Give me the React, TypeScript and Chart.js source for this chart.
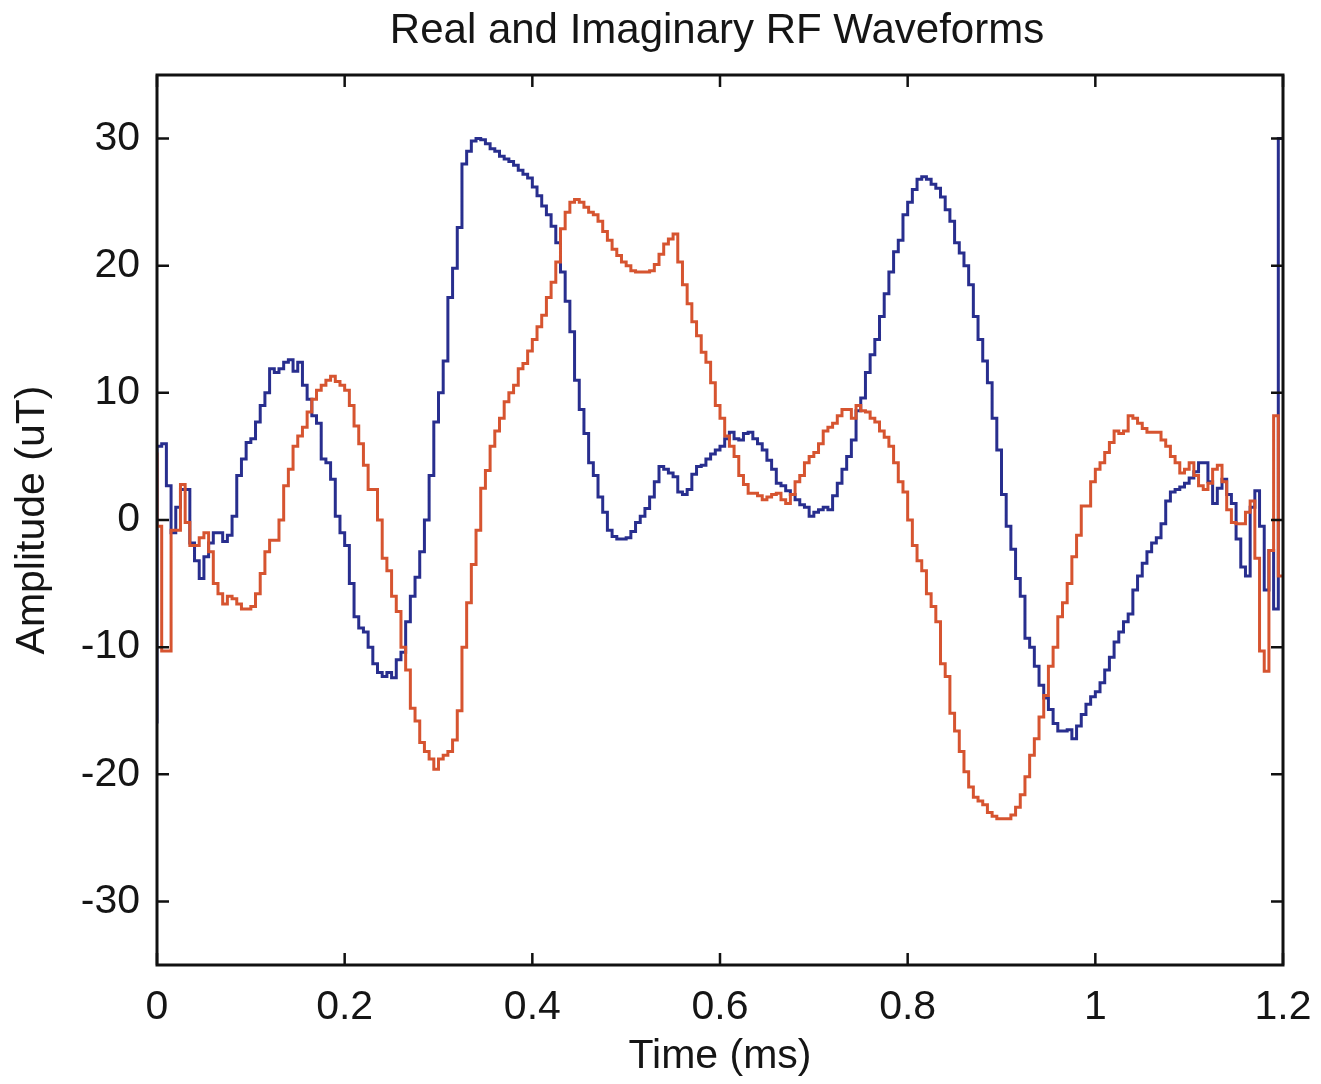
import React, { useEffect, useRef } from "react";
import { Chart, registerables } from "chart.js";

Chart.register(...registerables);

const TITLE = "Real and Imaginary RF Waveforms";
const X_LABEL = "Time (ms)";
const Y_LABEL = "Amplitude (uT)";

// waveform sampled every 5 microseconds from 0 to 1.2 ms
const SAMPLE_INTERVAL_MS = 0.005;

const X_TICKS = [0, 0.2, 0.4, 0.6, 0.8, 1.0, 1.2];
const X_TICK_LABELS = ["0", "0.2", "0.4", "0.6", "0.8", "1", "1.2"];
const Y_TICKS = [-30, -20, -10, 0, 10, 20, 30];
const Y_TICK_LABELS = ["-30", "-20", "-10", "0", "10", "20", "30"];

// Real part (blue), uT
const REAL_VALUES = [
  -16, 5.8, 6.0, 2.7, -1.0, 1.0, 2.4, 2.4, -1.8, -3.2, -4.6, -2.9, -1.8, -1.0, -1.0, -1.7, -1.2, 0.3, 3.5, 4.8,
  6.1, 6.4, 7.7, 9.0, 10.0, 11.9, 11.6, 11.9, 12.4, 12.6, 11.7, 12.4, 10.6, 9.5, 8.2, 7.6, 4.8, 4.5, 3.2, 0.3,
  -1.0, -2.0, -5.0, -7.6, -8.5, -8.8, -10.0, -11.3, -12.0, -12.3, -12.0, -12.4, -11.0, -10.4, -8.0, -6.0, -4.5, -2.5, 0.0, 3.5,
  7.7, 10.0, 12.5, 17.5, 19.8, 23.0, 28.0, 29.0, 29.8, 30.0, 29.9, 29.6, 29.2, 29.0, 28.6, 28.4, 28.2, 27.9, 27.5, 27.2,
  26.9, 26.2, 25.5, 24.7, 24.0, 23.1, 21.8, 19.5, 17.2, 14.8, 11.0, 8.7, 6.8, 4.5, 3.5, 1.8, 0.6, -0.8, -1.3, -1.5,
  -1.5, -1.4, -0.9, -0.2, 0.3, 0.9, 1.8, 3.0, 4.2, 4.0, 3.7, 3.4, 2.2, 2.0, 2.4, 3.6, 4.2, 4.3, 4.8, 5.2,
  5.5, 5.8, 6.4, 6.9, 6.4, 6.3, 6.8, 6.9, 6.4, 6.0, 5.5, 4.7, 4.0, 2.9, 2.7, 2.3, 2.0, 1.6, 1.2, 1.0,
  0.3, 0.6, 0.8, 1.0, 0.8, 1.9, 2.9, 4.0, 5.0, 6.3, 8.6, 9.6, 11.6, 13.0, 14.2, 16.0, 17.8, 19.5, 21.1, 22.0,
  24.0, 25.0, 26.0, 26.8, 27.0, 26.8, 26.4, 26.1, 25.4, 24.4, 23.5, 21.8, 21.0, 20.0, 18.5, 16.0, 14.2, 12.5, 10.8, 8.0,
  5.5, 2.0, -0.5, -2.3, -4.6, -6.0, -9.3, -10.0, -11.5, -13.0, -14.0, -14.9, -16.0, -16.6, -16.6, -16.5, -17.2, -16.2, -15.3, -14.5,
  -13.9, -13.5, -12.8, -11.8, -10.8, -9.6, -8.8, -8.0, -7.4, -5.5, -4.4, -3.4, -2.5, -1.8, -1.4, -0.3, 1.5, 2.2, 2.4, 2.6,
  2.9, 3.3, 3.8, 4.5, 4.5, 3.0, 1.3, 2.5, 3.2, 2.0, 1.3, -1.5, -3.7, -4.4, 1.0, 2.3, -0.5, -5.5, -2.4, -7.0,
  30.0,
];

// Imaginary part (red), uT
const IMAG_VALUES = [
  5.3, -0.5, -10.3, -10.3, -0.8, -0.8, 2.8, -0.2, -2.0, -2.0, -1.4, -1.0, -2.5, -5.0, -5.8, -6.6, -6.0, -6.2, -6.6, -7.0,
  -7.0, -6.8, -5.8, -4.2, -2.5, -1.6, -1.6, 0.0, 2.7, 4.0, 5.8, 6.6, 7.3, 8.5, 9.5, 10.2, 10.6, 11.0, 11.3, 10.9,
  10.6, 10.2, 9.0, 7.4, 6.0, 4.3, 2.4, 2.4, 0.0, -3.0, -4.0, -6.0, -7.2, -10.0, -11.8, -14.8, -15.8, -17.5, -18.2, -18.8,
  -19.6, -18.8, -18.5, -18.2, -17.3, -15.0, -10.0, -6.5, -3.5, -0.8, 2.5, 3.9, 5.8, 7.0, 8.0, 9.3, 10.0, 10.6, 11.9, 12.3,
  13.3, 14.2, 15.2, 16.1, 17.5, 18.7, 20.3, 22.9, 24.2, 25.0, 25.2, 25.0, 24.6, 24.2, 24.0, 23.5, 22.7, 22.0, 21.3, 20.8,
  20.3, 20.0, 19.6, 19.5, 19.5, 19.5, 19.6, 20.1, 20.9, 21.7, 22.1, 22.5, 20.3, 18.5, 17.0, 15.6, 14.5, 13.2, 12.4, 10.8,
  9.0, 8.0, 6.6, 5.8, 5.0, 3.5, 2.8, 2.1, 2.1, 1.9, 1.6, 1.8, 2.0, 2.1, 1.6, 1.3, 2.0, 3.0, 3.5, 4.5,
  5.0, 5.3, 6.0, 7.0, 7.3, 7.6, 8.2, 8.7, 8.7, 8.0, 9.0, 8.6, 8.5, 8.0, 7.7, 7.0, 6.5, 5.8, 4.5, 3.0,
  2.2, 0.0, -2.0, -3.2, -4.0, -5.8, -6.8, -8.0, -11.3, -12.3, -15.2, -16.6, -18.2, -19.8, -21.0, -21.8, -22.1, -22.4, -23.0, -23.3,
  -23.5, -23.5, -23.5, -23.2, -22.6, -21.6, -20.2, -18.5, -17.2, -15.5, -13.8, -11.5, -10.0, -7.6, -6.5, -5.0, -2.9, -1.2, 1.1, 1.1,
  3.0, 4.0, 4.5, 5.3, 6.1, 7.0, 6.8, 7.0, 8.2, 8.0, 7.6, 7.2, 6.9, 6.9, 6.9, 6.3, 5.8, 5.0, 4.5, 3.7,
  4.0, 4.5, 3.5, 2.7, 2.4, 2.9, 4.0, 4.3, 3.0, 0.8, -0.2, -0.3, -0.3, 0.6, 1.5, -3.0, -10.3, -11.9, -2.4, 8.2,
  -4.4,
];

const BLUE = "rgb(40, 46, 142)";
const RED = "rgb(214, 84, 48)";
const FONT_FAMILY = "'Liberation Sans', Arial, Helvetica, sans-serif";
const TEXT_COLOR = "#151515";

const W = 1321;
const H = 1084;

const toPoints = (values: number[]) =>
  values.map((v, i) => ({ x: Number((i * SAMPLE_INTERVAL_MS).toFixed(3)), y: v }));

const framePlugin = {
  id: "matlabFrame",
  afterDatasetsDraw(chart: any) {
    const { ctx, chartArea, scales } = chart;
    const { left, right, top, bottom } = chartArea;
    const xs = scales.x;
    const ys = scales.y;
    const TL = 12;
    ctx.save();
    ctx.strokeStyle = "#111";
    ctx.lineWidth = 2.5;
    ctx.beginPath();
    X_TICKS.forEach((v) => {
      const px = xs.getPixelForValue(v);
      ctx.moveTo(px, bottom);
      ctx.lineTo(px, bottom - TL);
      ctx.moveTo(px, top);
      ctx.lineTo(px, top + TL);
    });
    Y_TICKS.forEach((v) => {
      const py = ys.getPixelForValue(v);
      ctx.moveTo(left, py);
      ctx.lineTo(left + TL, py);
      ctx.moveTo(right, py);
      ctx.lineTo(right - TL, py);
    });
    ctx.stroke();
    ctx.lineWidth = 3;
    ctx.strokeRect(left, top, right - left, bottom - top);

    // title centred over the plot box
    ctx.fillStyle = TEXT_COLOR;
    ctx.font = `42px ${FONT_FAMILY}`;
    ctx.textAlign = "center";
    ctx.textBaseline = "middle";
    ctx.fillText(TITLE, (left + right) / 2 - 3, 31);
    ctx.restore();
  },
};

export default function App() {
  const canvasRef = useRef<HTMLCanvasElement | null>(null);

  useEffect(() => {
    if (!canvasRef.current) return;
    const chart = new Chart(canvasRef.current, {
      type: "line",
      data: {
        datasets: [
          {
            label: "Imaginary",
            data: toPoints(IMAG_VALUES),
            borderColor: RED,
            borderWidth: 3,
            pointRadius: 0,
            stepped: "after",
            fill: false,
          },
          {
            label: "Real",
            data: toPoints(REAL_VALUES),
            borderColor: BLUE,
            borderWidth: 3,
            pointRadius: 0,
            stepped: "after",
            fill: false,
          },
        ],
      },
      options: {
        responsive: false,
        animation: false,
        layout: { padding: { left: 0, right: 38, top: 75, bottom: 0 } },
        plugins: {
          legend: { display: false },
          tooltip: { enabled: false },
          title: { display: false },
        },
        scales: {
          x: {
            type: "linear",
            min: 0,
            max: 1.2,
            afterBuildTicks: (s: any) => {
              s.ticks = X_TICKS.map((v) => ({ value: v }));
            },
            afterFit: (s: any) => {
              s.height = 119;
              s.paddingRight = 0;
              s.paddingLeft = 0;
            },
            ticks: {
              autoSkip: false,
              maxRotation: 0,
              padding: 18,
              color: TEXT_COLOR,
              font: { family: FONT_FAMILY, size: 41 },
              callback: (_v: any, i: number) => X_TICK_LABELS[i],
            },
            grid: { display: false, drawTicks: false },
            border: { display: false },
            title: {
              display: true,
              text: X_LABEL,
              color: TEXT_COLOR,
              font: { family: FONT_FAMILY, size: 41 },
              padding: { top: 0, bottom: 3 },
            },
          },
          y: {
            type: "linear",
            min: -35,
            max: 35,
            afterBuildTicks: (s: any) => {
              s.ticks = Y_TICKS.map((v) => ({ value: v }));
            },
            afterFit: (s: any) => {
              s.width = 157;
              s.paddingTop = 0;
              s.paddingBottom = 0;
            },
            ticks: {
              autoSkip: false,
              padding: 17,
              color: TEXT_COLOR,
              font: { family: FONT_FAMILY, size: 41 },
              callback: (_v: any, i: number) => Y_TICK_LABELS[i],
            },
            grid: { display: false, drawTicks: false },
            border: { display: false },
            title: {
              display: true,
              text: Y_LABEL,
              color: TEXT_COLOR,
              font: { family: FONT_FAMILY, size: 41 },
              padding: { top: 8, bottom: 0 },
            },
          },
        },
      },
      plugins: [framePlugin],
    });
    return () => chart.destroy();
  }, []);

  return (
    <div style={{ position: "fixed", left: 0, top: 0, width: W, height: H, background: "#fff" }}>
      <canvas ref={canvasRef} width={W} height={H} style={{ display: "block" }} />
    </div>
  );
}
